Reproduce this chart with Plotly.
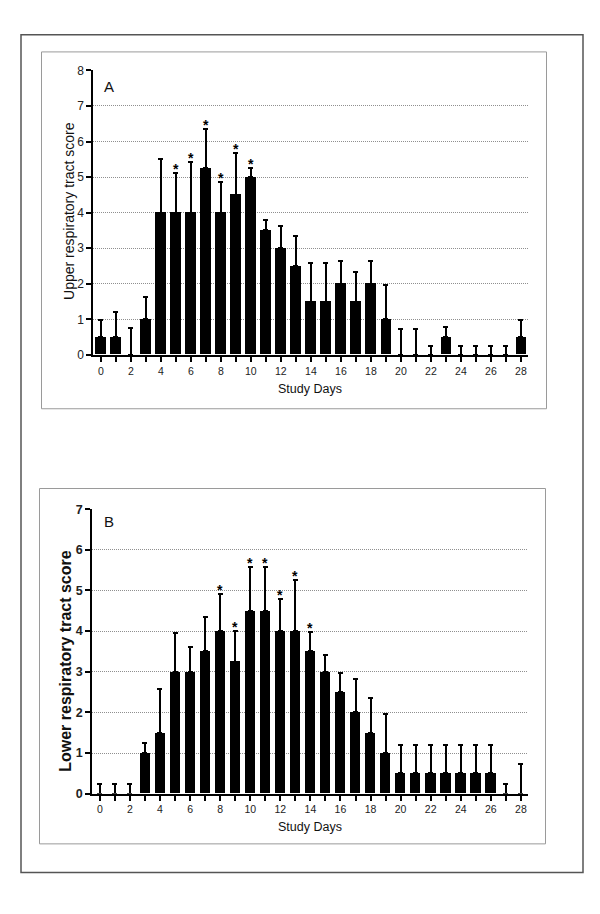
import plotly.graph_objects as go

# Study days 0..28
days = list(range(29))

# Panel A: upper respiratory tract score (bar height, top of error bar)
upper_score = [0.5, 0.5, 0, 1.0, 4.0, 4.0, 4.0, 5.25, 4.0, 4.5, 5.0, 3.5, 3.0, 2.5, 1.5,
               1.5, 2.0, 1.5, 2.0, 1.0, 0, 0, 0, 0.5, 0, 0, 0, 0, 0.5]
upper_top = [0.98, 1.21, 0.75, 1.62, 5.5, 5.11, 5.42, 6.36, 4.87, 5.69, 5.25, 3.78, 3.63, 3.35, 2.58,
             2.58, 2.63, 2.34, 2.63, 1.96, 0.74, 0.74, 0.25, 0.78, 0.25, 0.25, 0.25, 0.25, 0.97]
upper_sig = [5, 6, 7, 8, 9, 10]

# Panel B: lower respiratory tract score
lower_score = [0, 0, 0, 1.0, 1.5, 3.0, 3.0, 3.5, 4.0, 3.25, 4.5, 4.5, 4.0, 4.0, 3.5,
               3.0, 2.5, 2.0, 1.5, 1.0, 0.5, 0.5, 0.5, 0.5, 0.5, 0.5, 0.5, 0, 0]
lower_top = [0.25, 0.25, 0.25, 1.25, 2.58, 3.95, 3.62, 4.35, 4.91, 4.0, 5.57, 5.57, 4.8, 5.25, 3.98,
             3.4, 2.96, 2.82, 2.36, 1.95, 1.2, 1.2, 1.2, 1.2, 1.2, 1.2, 1.2, 0.23, 0.73]
lower_sig = [8, 9, 10, 11, 12, 13, 14]

x_ticks = days
x_labels = [str(d) if d % 2 == 0 else "" for d in days]

FONT = "Liberation Sans, Arial, Helvetica, sans-serif"
# page body keeps its default 8px margin, so the figure is 16px smaller
PAGE_W, PAGE_H, PAD = 600, 914, 8
W, H = PAGE_W - 2 * PAD, PAGE_H - 2 * PAD


def px(x):
    return (x - PAD) / W


def py(y):
    return 1 - (y - PAD) / H


fig = go.Figure()

panels = [
    (upper_score, upper_top, upper_sig, "x", "y"),
    (lower_score, lower_top, lower_sig, "x2", "y2"),
]
for score, top, sig, xa, ya in panels:
    err = [t - s for t, s in zip(top, score)]
    fig.add_trace(go.Bar(
        x=days, y=score, width=0.68, xaxis=xa, yaxis=ya,
        marker=dict(color="black", line=dict(width=0)),
        error_y=dict(type="data", symmetric=False, array=err,
                     arrayminus=[0] * len(err), color="black",
                     thickness=2, width=2.5),
        showlegend=False, hoverinfo="skip",
    ))
    # significance asterisks just above the error caps
    for d in sig:
        fig.add_annotation(x=d, y=top[d], xref=xa, yref=ya, text="<b>*</b>",
                           showarrow=False, yanchor="bottom", yshift=-6,
                           font=dict(family=FONT, size=14, color="black"))

xaxis_common = dict(
    range=[-0.5, 28.45], tickvals=x_ticks, ticktext=x_labels,
    ticks="outside", ticklen=5, tickwidth=2, tickcolor="black",
    showline=True, linewidth=2, linecolor="black", showgrid=False,
    zeroline=False, tickfont=dict(family=FONT, size=10.5, color="#222"),
    fixedrange=True,
)
yaxis_common = dict(
    dtick=1, ticks="outside", ticklen=5, tickwidth=2, tickcolor="black",
    showline=True, linewidth=2, linecolor="black",
    showgrid=True, gridcolor="#8f8f8f", gridwidth=1, griddash="1px,1px",
    zeroline=False, fixedrange=True,
)

fig.update_layout(
    width=W, height=H,
    margin=dict(l=0, r=0, t=0, b=0),
    paper_bgcolor="white", plot_bgcolor="white",
    bargap=0,
    xaxis=dict(xaxis_common, domain=[px(93.3), px(527.7)], anchor="y"),
    yaxis=dict(yaxis_common, range=[0, 8], domain=[py(353.3), py(64.3)], anchor="x",
               tickfont=dict(family=FONT, size=12, color="#222")),
    xaxis2=dict(xaxis_common, domain=[px(92.3), px(527.7)], anchor="y2"),
    yaxis2=dict(yaxis_common, range=[0, 7], domain=[py(799), py(510)], anchor="x2",
                tickfont=dict(family=FONT, size=12.5, color="#222", weight="bold")),
)

# Frames around the whole figure and each panel
fig.add_shape(type="rect", xref="paper", yref="paper",
              x0=px(21), x1=px(583), y0=py(879), y1=py(28),
              line=dict(color="#555", width=1.5))
fig.add_shape(type="rect", xref="paper", yref="paper",
              x0=px(41.5), x1=px(546.5), y0=py(408), y1=py(45.5),
              line=dict(color="#9a9a9a", width=1))
fig.add_shape(type="rect", xref="paper", yref="paper",
              x0=px(39.5), x1=px(545.5), y0=py(850), y1=py(489),
              line=dict(color="#9a9a9a", width=1))

txt = dict(family=FONT, color="#111")
annots = [
    dict(text="A", x=px(109), y=py(80.5), font=dict(txt, size=15)),
    dict(text="B", x=px(109), y=py(523), font=dict(txt, size=15)),
    dict(text="Upper respiratory tract score", x=px(69), y=py(207),
         textangle=-90, font=dict(txt, size=14)),
    dict(text="<b>Lower respiratory tract score</b>", x=px(66), y=py(664),
         textangle=-90, font=dict(txt, size=16)),
    dict(text="Study Days", x=px(309.5), y=py(388), font=dict(txt, size=12.5)),
    dict(text="Study Days", x=px(309.5), y=py(832.5), font=dict(txt, size=12.5)),
]
for a in annots:
    fig.add_annotation(xref="paper", yref="paper", showarrow=False,
                       xanchor="center", yanchor="middle", **a)

fig.write_html("out.html")
